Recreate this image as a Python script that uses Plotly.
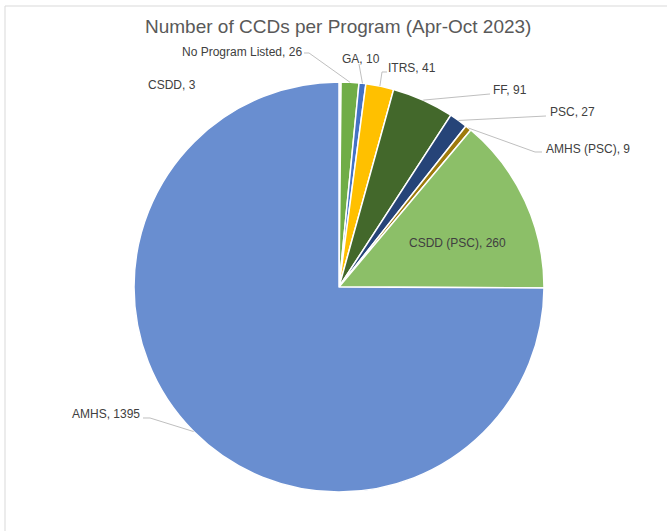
import math
import plotly.graph_objects as go

# Program names and CCD counts, clockwise from 12 o'clock
programs = ["CSDD", "No Program Listed", "GA", "ITRS", "FF", "PSC",
            "AMHS (PSC)", "CSDD (PSC)", "AMHS"]
counts = [3, 26, 10, 41, 91, 27, 9, 260, 1395]
colors = ["#EDEDED", "#70AD47", "#4472C4", "#FFC000", "#43682B", "#264478",
          "#9E7A0C", "#8CBF68", "#698ED0"]

W, H = 667, 531
CX, CY, R = 339, 287, 205  # pie centre and radius in pixels


def px(x):
    return x / W


def py(y):
    return 1 - y / H


# label anchor (pixels), text anchor, and the knee of each leader line
label_layout = {
    "CSDD": dict(x=146, y=85, xanchor="left", line=None),
    "No Program Listed": dict(x=304, y=52, xanchor="right", line=[(304, 53), (309, 53)]),
    "GA": dict(x=340, y=59, xanchor="left", line=[(359, 64)]),
    "ITRS": dict(x=386, y=68, xanchor="left", line=[(387, 72), (382, 72)]),
    "FF": dict(x=491, y=90, xanchor="left", line=[(490, 94)]),
    "PSC": dict(x=548, y=112, xanchor="left", line=[(546, 116)]),
    "AMHS (PSC)": dict(x=544, y=149, xanchor="left", line=[(542, 152), (535, 152)]),
    "CSDD (PSC)": dict(x=457, y=243, xanchor="center", line=None),
    "AMHS": dict(x=142, y=414, xanchor="right", line=[(143, 418), (150, 418)]),
}

fig = go.Figure(go.Pie(
    labels=programs,
    values=counts,
    sort=False,
    direction="clockwise",
    rotation=0,
    marker=dict(colors=colors, line=dict(color="white", width=1.5)),
    textinfo="none",
    hoverinfo="label+value",
    showlegend=False,
    domain=dict(x=[px(CX - R), px(CX + R)], y=[py(CY + R), py(CY - R)]),
))

# mid-angle of each slice, used to end leader lines on the pie edge
total = sum(counts)
mid_angles = {}
acc = 0
for name, v in zip(programs, counts):
    mid_angles[name] = (acc + v / 2) / total * 2 * math.pi
    acc += v

annotations = []
shapes = []
for name, v in zip(programs, counts):
    spec = label_layout[name]
    annotations.append(dict(
        x=px(spec["x"]), y=py(spec["y"]), xref="paper", yref="paper",
        text=f"{name}, {v}", showarrow=False,
        xanchor=spec["xanchor"], yanchor="middle",
        font=dict(size=12, color="#404040"),
    ))
    if spec["line"]:
        a = mid_angles[name]
        edge = (CX + R * math.sin(a), CY - R * math.cos(a))
        pts = spec["line"] + [edge]
        path = "M " + " L ".join(f"{px(x):.5f},{py(y):.5f}" for x, y in pts)
        shapes.append(dict(type="path", path=path, xref="paper", yref="paper",
                           line=dict(color="#BFBFBF", width=1)))

# light chart-area frame along the top and left
shapes.append(dict(type="line", xref="paper", yref="paper",
                   x0=px(5), x1=1, y0=py(6), y1=py(6),
                   line=dict(color="#D9D9D9", width=1)))
shapes.append(dict(type="line", xref="paper", yref="paper",
                   x0=px(5), x1=px(5), y0=py(6), y1=0,
                   line=dict(color="#D9D9D9", width=1)))

annotations.append(dict(
    x=px(338), y=py(27), xref="paper", yref="paper",
    text="Number of CCDs per Program (Apr-Oct 2023)", showarrow=False,
    xanchor="center", yanchor="middle",
    font=dict(size=19, color="#595959"),
))

fig.update_layout(
    width=W, height=H,
    margin=dict(l=0, r=0, t=0, b=0),
    paper_bgcolor="white",
    plot_bgcolor="white",
    font=dict(family="Arial, Liberation Sans, sans-serif"),
    annotations=annotations,
    shapes=shapes,
)

fig.write_html("out.html")
